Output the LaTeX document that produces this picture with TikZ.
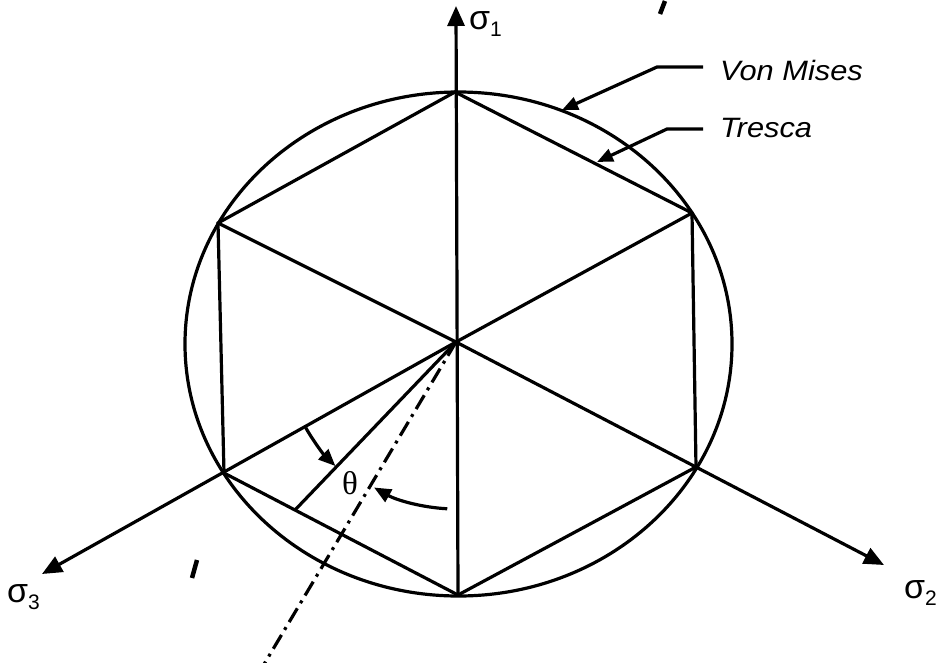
\documentclass[tikz,border=0pt]{standalone}
\usepackage{fontspec}
\usepackage{graphicx}
\setmainfont{Liberation Sans}
\newfontfamily\serifgr{Liberation Serif}
\usetikzlibrary{arrows.meta,calc}
\newcommand\sigsub[1]{\raisebox{-7pt}{\fontsize{21}{21}\selectfont #1}}
\begin{document}
\begin{tikzpicture}[x=1pt,y=1pt,
  thick line/.style={line width=3.2pt},
  bigtip/.style={-{Triangle[length=20pt,width=17pt]}},
  leadtip/.style={-{Triangle[length=16pt,width=13pt]}},
  angtip/.style={-{Triangle[length=17pt,width=14pt]}},
  sig/.style={inner sep=0pt,anchor=base west,font=\fontsize{34}{34}\selectfont},
  lab/.style={inner sep=0pt,anchor=base west,font=\itshape\fontsize{28}{28}\selectfont},
  tick/.style={line width=4.5pt}]
\useasboundingbox (0,-662) rectangle (938,0);
\fill[white] (0,-662) rectangle (938,0);
% points
\coordinate (O) at (456,-342);
\coordinate (T) at (455,-92);
\coordinate (UR) at (692,-213);
\coordinate (LR) at (696,-467);
\coordinate (B) at (458,-595);
\coordinate (LL) at (224,-473);
\coordinate (UL) at (218,-223);
\coordinate (S1) at (456,-6);
\coordinate (S2) at (884,-565);
\coordinate (S3) at (42,-574);
\coordinate (P) at (295,-510);
\coordinate (D) at (263,-666);
% von mises circle
\draw[thick line] (458.5,-344) ellipse [x radius=273.5pt, y radius=252pt];
% tresca hexagon
\draw[thick line,line join=miter] (T) -- (UR) -- (LR) -- (B) -- (LL) -- (UL) -- cycle;
\draw[thick line] (O) -- (UL);
\draw[thick line] (O) -- (UR);
% axes
\draw[thick line,bigtip] (B) -- (S1);
\draw[thick line,bigtip] (O) -- (S2);
\draw[thick line,bigtip] (O) -- (S3);
% theta construction
\draw[thick line] (O) -- (P);
\draw[thick line,dash pattern=on 16pt off 6pt on 3pt off 6pt] (O) -- (D);
\draw[thick line,angtip] ($(O)+(209.7:173pt)$) arc[start angle=209.7, end angle=225.8, radius=173pt];
\draw[thick line,angtip] ($(O)+(267:167pt)$) arc[start angle=267, end angle=240.6, radius=167pt];
\node[inner sep=0pt,font=\serifgr\fontsize{33}{33}\selectfont] (th) at (350,-483) {θ};
% labels
\node[sig] (s1) at (469,-29) {σ\sigsub{1}};
\node[sig] (s2) at (904,-598) {σ\sigsub{2}};
\node[sig] (s3) at (7,-602) {σ\sigsub{3}};
\node[lab] (vm) at (720,-80) {\scalebox{1.1}[1]{Von Mises}};
\node[lab] (tr) at (720,-137) {\scalebox{1.1}[1]{Tresca}};
\coordinate (vm1) at (703,-67);
\coordinate (vm2) at (657,-67);
\coordinate (vm3) at (562,-110);
\coordinate (tr1) at (703,-129);
\coordinate (tr2) at (667,-129);
\coordinate (tr3) at (597,-162);
\draw[thick line,leadtip] (vm1) -- (vm2) -- (vm3);
\draw[thick line,leadtip] (tr1) -- (tr2) -- (tr3);
% stray marks
\draw[tick] (660,-14) -- (665,-1);
\draw[tick] (192,-578) -- (197,-560);
\end{tikzpicture}
\end{document}
